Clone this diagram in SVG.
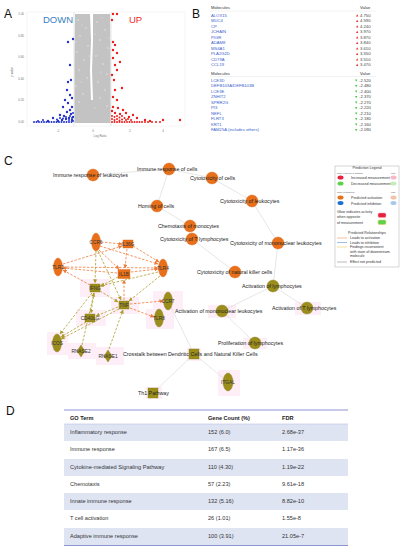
<svg xmlns="http://www.w3.org/2000/svg" width="403" height="550" viewBox="0 0 403 550">
<style>
.pl{font-family:"Liberation Sans",Arial,sans-serif;font-size:12px;fill:#111}
.tk{font-family:"Liberation Sans",Arial,sans-serif;font-size:3px;fill:#777}
.bt{font-family:"Liberation Sans",Arial,sans-serif;font-size:4.2px;fill:#3a5fcd}
.bh{font-family:"Liberation Sans",Arial,sans-serif;font-size:4.2px;fill:#333}
.bv{font-family:"Liberation Sans",Arial,sans-serif;font-size:4.2px;fill:#444}
.fl{font-family:"Liberation Sans",Arial,sans-serif;font-size:5.3px;fill:#222}
.gl{font-family:"Liberation Sans",Arial,sans-serif;font-size:4.8px;fill:#333;text-anchor:middle}
.lg{font-family:"Liberation Sans",Arial,sans-serif;font-size:3.6px;fill:#333}
.ls{font-family:"Liberation Sans",Arial,sans-serif;font-size:2.4px;fill:#555}
.dt{font-family:"Liberation Sans",Arial,sans-serif;font-size:5.6px;fill:#333}
.dh{font-family:"Liberation Sans",Arial,sans-serif;font-size:5.6px;fill:#222;font-weight:bold}
.fn{fill:#e8701a;stroke:#d9631a;stroke-width:0.4}
.on{fill:#e8701a;stroke:#d9631a;stroke-width:0.4}
.ol{fill:#9c8e1c;stroke:#8a7c15;stroke-width:0.4}
.fe{stroke:#dcdcdc;stroke-width:0.7;fill:none}
.eo{stroke:#f07a3a;stroke-width:0.8;stroke-dasharray:2.5 1.5;fill:none;marker-end:url(#ao)}
.ey{stroke:#ad9e2c;stroke-width:0.8;stroke-dasharray:2.5 1.5;fill:none;marker-end:url(#ay)}
.hl{fill:#fdeef7}
.gc{fill:#c3c3c3}
</style>
<defs>
<marker id="ao" viewBox="0 0 10 10" refX="9" refY="5" markerWidth="4" markerHeight="4" markerUnits="userSpaceOnUse" orient="auto"><path d="M0,0L10,5L0,10z" fill="#f07a3a"/></marker>
<marker id="ay" viewBox="0 0 10 10" refX="9" refY="5" markerWidth="4" markerHeight="4" markerUnits="userSpaceOnUse" orient="auto"><path d="M0,0L10,5L0,10z" fill="#ad9e2c"/></marker>
</defs>
<rect width="403" height="550" fill="#fff"/>

<!-- Panel A -->
<g id="panelA">
<text class="pl" x="4" y="18">A</text>
<rect x="27" y="12" width="158" height="114" fill="none" stroke="#ececec" stroke-width="0.5"/>
<line x1="74" y1="12" x2="74" y2="126" stroke="#cfcfcf" stroke-width="0.5"/>
<line x1="111" y1="12" x2="111" y2="126" stroke="#cfcfcf" stroke-width="0.5"/>
<path class="gc" d="M75,14L90,14L91,40L90,70L91,100L93,100L92,70L93,40L93,14L110,14L110.5,60L110.5,123L74.5,123L74.5,60z"/>
<g fill="#e4e4e4">
<circle cx="78" cy="20" r="0.8"/><circle cx="86" cy="28" r="0.8"/><circle cx="80" cy="36" r="0.8"/><circle cx="88" cy="46" r="0.8"/><circle cx="77" cy="52" r="0.8"/><circle cx="84" cy="60" r="0.8"/><circle cx="79" cy="70" r="0.8"/><circle cx="87" cy="78" r="0.8"/><circle cx="76" cy="86" r="0.8"/><circle cx="83" cy="94" r="0.8"/><circle cx="79" cy="102" r="0.8"/>
<circle cx="97" cy="22" r="0.8"/><circle cx="105" cy="30" r="0.8"/><circle cx="100" cy="40" r="0.8"/><circle cx="108" cy="48" r="0.8"/><circle cx="96" cy="56" r="0.8"/><circle cx="103" cy="64" r="0.8"/><circle cx="107" cy="74" r="0.8"/><circle cx="98" cy="82" r="0.8"/><circle cx="105" cy="90" r="0.8"/><circle cx="100" cy="98" r="0.8"/><circle cx="107" cy="106" r="0.8"/>
<circle cx="82" cy="25" r="0.6"/><circle cx="76" cy="42" r="0.6"/><circle cx="89" cy="56" r="0.6"/><circle cx="81" cy="82" r="0.6"/><circle cx="102" cy="18" r="0.6"/><circle cx="95" cy="34" r="0.6"/><circle cx="109" cy="38" r="0.6"/><circle cx="101" cy="72" r="0.6"/><circle cx="95" cy="108" r="0.6"/>
</g>
<text class="tk" x="24" y="15" text-anchor="end">1.00</text>
<text class="tk" x="24" y="37" text-anchor="end">0.80</text>
<text class="tk" x="24" y="58" text-anchor="end">0.60</text>
<text class="tk" x="24" y="80" text-anchor="end">0.40</text>
<text class="tk" x="24" y="101" text-anchor="end">0.20</text>
<text class="tk" x="24" y="123" text-anchor="end">0.00</text>
<text class="tk" x="58" y="132" text-anchor="middle">-2</text>
<text class="tk" x="93" y="132" text-anchor="middle">0</text>
<text class="tk" x="130" y="132" text-anchor="middle">2</text>
<text class="tk" x="163" y="132" text-anchor="middle">4</text>
<text class="tk" x="100" y="136.5" text-anchor="middle" font-size="3.4">Log Ratio</text>
<text class="tk" x="0" y="0" text-anchor="middle" font-size="3.4" transform="translate(13,72) rotate(-90)">p-value</text>
<text x="43" y="23" font-family="Liberation Sans,Arial,sans-serif" font-size="9.5" fill="#3a7fc1">DOWN</text>
<text x="129" y="23" font-family="Liberation Sans,Arial,sans-serif" font-size="9.5" fill="#ee2a2a">UP</text>
<g fill="#2233cc">
<circle cx="68" cy="42" r="1.2"/><circle cx="73" cy="39" r="1.2"/><circle cx="70" cy="65" r="1.2"/><circle cx="71" cy="80" r="1.2"/><circle cx="68" cy="82" r="1.2"/><circle cx="67" cy="90" r="1.2"/><circle cx="70" cy="95" r="1.2"/><circle cx="72" cy="98" r="1.2"/><circle cx="65" cy="100" r="1.2"/><circle cx="68" cy="103" r="1.2"/><circle cx="63" cy="107" r="1.2"/><circle cx="72" cy="107" r="1.2"/><circle cx="67" cy="112" r="1.2"/><circle cx="70" cy="110" r="1.2"/><circle cx="53" cy="118" r="1.2"/><circle cx="60" cy="115" r="1.2"/><circle cx="64" cy="116" r="1.2"/><circle cx="71" cy="114" r="1.2"/><circle cx="73" cy="117" r="1.2"/><circle cx="69" cy="118" r="1.2"/><circle cx="66" cy="119" r="1.2"/><circle cx="62" cy="120" r="1.2"/><circle cx="58" cy="121" r="1.2"/><circle cx="72" cy="120" r="1.2"/><circle cx="48" cy="121" r="1.2"/>
<circle cx="34" cy="122" r="1"/><circle cx="36.5" cy="122" r="1"/><circle cx="39" cy="122" r="1"/><circle cx="41.5" cy="122" r="1"/><circle cx="44" cy="122" r="1"/><circle cx="46.5" cy="122" r="1"/><circle cx="49" cy="122" r="1"/><circle cx="51.5" cy="122" r="1"/><circle cx="54" cy="122" r="1"/><circle cx="56.5" cy="122" r="1"/><circle cx="59" cy="122" r="1"/><circle cx="61.5" cy="122" r="1"/><circle cx="64" cy="122" r="1"/><circle cx="66.5" cy="122" r="1"/><circle cx="69" cy="122" r="1"/><circle cx="71.5" cy="122" r="1"/><circle cx="73" cy="121" r="1"/>
<circle cx="57" cy="119.5" r="1"/><circle cx="60" cy="118" r="1"/><circle cx="63" cy="118.5" r="1"/><circle cx="66" cy="117" r="1"/><circle cx="69" cy="120" r="1"/><circle cx="72" cy="118" r="1"/><circle cx="43" cy="120" r="1"/><circle cx="38" cy="121" r="1"/><circle cx="70" cy="116" r="1"/><circle cx="73" cy="113" r="1"/>
</g>
<g fill="#ee1c1c">
<circle cx="113" cy="14" r="1.2"/><circle cx="117" cy="14" r="1.2"/><circle cx="112" cy="20" r="1.2"/><circle cx="113" cy="42" r="1.2"/><circle cx="115" cy="45" r="1.2"/><circle cx="113" cy="50" r="1.2"/><circle cx="117" cy="53" r="1.2"/><circle cx="113" cy="58" r="1.2"/><circle cx="120" cy="62" r="1.2"/><circle cx="115" cy="65" r="1.2"/><circle cx="117" cy="70" r="1.2"/><circle cx="112" cy="75" r="1.2"/><circle cx="114" cy="80" r="1.2"/><circle cx="122" cy="88" r="1.2"/><circle cx="115" cy="90" r="1.2"/><circle cx="113" cy="97" r="1.2"/><circle cx="117" cy="100" r="1.2"/><circle cx="113" cy="107" r="1.2"/><circle cx="118" cy="108" r="1.2"/><circle cx="123" cy="110" r="1.2"/><circle cx="115" cy="113" r="1.2"/><circle cx="112" cy="111" r="1.2"/><circle cx="120" cy="114" r="1.2"/><circle cx="126" cy="113" r="1.2"/><circle cx="133" cy="115" r="1.2"/><circle cx="129" cy="117" r="1.2"/><circle cx="137" cy="118" r="1.2"/><circle cx="163" cy="120" r="1.2"/><circle cx="180" cy="120" r="1.2"/><circle cx="150" cy="121" r="1.2"/><circle cx="145" cy="120" r="1.2"/>
<circle cx="112" cy="116" r="1"/><circle cx="114.5" cy="117" r="1"/><circle cx="117" cy="116" r="1"/><circle cx="119.5" cy="117.5" r="1"/><circle cx="122" cy="116" r="1"/><circle cx="124.5" cy="118" r="1"/><circle cx="112" cy="119" r="1"/><circle cx="114.5" cy="120" r="1"/><circle cx="117" cy="119" r="1"/><circle cx="119.5" cy="120.5" r="1"/><circle cx="122" cy="119.5" r="1"/><circle cx="126" cy="120" r="1"/><circle cx="112" cy="122" r="1"/><circle cx="114.5" cy="122" r="1"/><circle cx="117" cy="122" r="1"/><circle cx="119.5" cy="122" r="1"/><circle cx="122" cy="122" r="1"/><circle cx="124.5" cy="122" r="1"/><circle cx="127" cy="122" r="1"/><circle cx="129.5" cy="122" r="1"/><circle cx="132" cy="122" r="1"/><circle cx="134.5" cy="122" r="1"/><circle cx="137" cy="122" r="1"/><circle cx="139.5" cy="122" r="1"/><circle cx="142" cy="122" r="1"/><circle cx="145" cy="122" r="1"/><circle cx="148" cy="122" r="1"/><circle cx="152" cy="122" r="1"/><circle cx="156" cy="122" r="1"/><circle cx="160" cy="122" r="1"/><circle cx="131" cy="120" r="1"/><circle cx="128" cy="119" r="1"/>
</g>
</g>

<!-- Panel B -->
<g id="panelB">
<text class="pl" x="192" y="18">B</text>
<text class="bh" x="211" y="9">Molecules</text>
<text class="bh" x="360" y="9">Value</text>
<line x1="210" y1="11" x2="376" y2="11" stroke="#ddd" stroke-width="0.4"/>
<text class="bt" x="211" y="16.5">ALOX15</text>
<text class="bt" x="211" y="22">MUC4</text>
<text class="bt" x="211" y="27.5">CP</text>
<text class="bt" x="211" y="33">JCHAIN</text>
<text class="bt" x="211" y="38.5">PIGR</text>
<text class="bt" x="211" y="44">ADAM8</text>
<text class="bt" x="211" y="49.5">MS4A1</text>
<text class="bt" x="211" y="55">PLA2G2D</text>
<text class="bt" x="211" y="60.5">CD79A</text>
<text class="bt" x="211" y="66">CCL19</text>
<g fill="#e33">
<path d="M356,16.5h2.4l-1.2,-2.2z"/><path d="M356,22h2.4l-1.2,-2.2z"/><path d="M356,27.5h2.4l-1.2,-2.2z"/><path d="M356,33h2.4l-1.2,-2.2z"/><path d="M356,38.5h2.4l-1.2,-2.2z"/><path d="M356,44h2.4l-1.2,-2.2z"/><path d="M356,49.5h2.4l-1.2,-2.2z"/><path d="M356,55h2.4l-1.2,-2.2z"/><path d="M356,60.5h2.4l-1.2,-2.2z"/><path d="M356,66h2.4l-1.2,-2.2z"/>
</g>
<text class="bv" x="360" y="16.5">4.750</text>
<text class="bv" x="360" y="22">4.590</text>
<text class="bv" x="360" y="27.5">4.240</text>
<text class="bv" x="360" y="33">3.970</text>
<text class="bv" x="360" y="38.5">3.870</text>
<text class="bv" x="360" y="44">3.840</text>
<text class="bv" x="360" y="49.5">3.610</text>
<text class="bv" x="360" y="55">3.550</text>
<text class="bv" x="360" y="60.5">3.510</text>
<text class="bv" x="360" y="66">3.470</text>

<text class="bh" x="211" y="74.5">Molecules</text>
<text class="bh" x="360" y="74.5">Value</text>
<line x1="210" y1="76.5" x2="376" y2="76.5" stroke="#ddd" stroke-width="0.4"/>
<text class="bt" x="211" y="81.5">LCE3D</text>
<text class="bt" x="211" y="87">DEFB103A/DEFB103B</text>
<text class="bt" x="211" y="92.5">LCE3E</text>
<text class="bt" x="211" y="98">ZNHIT2</text>
<text class="bt" x="211" y="103.5">SPRR2G</text>
<text class="bt" x="211" y="109">PI3</text>
<text class="bt" x="211" y="114.5">NEFL</text>
<text class="bt" x="211" y="120">FLRT3</text>
<text class="bt" x="211" y="125.5">KRT1</text>
<text class="bt" x="211" y="131">FAM25A (includes others)</text>
<g fill="#4c4">
<path d="M355,79.5h2.4l-1.2,2.2z"/><path d="M355,85h2.4l-1.2,2.2z"/><path d="M355,90.5h2.4l-1.2,2.2z"/><path d="M355,96h2.4l-1.2,2.2z"/><path d="M355,101.5h2.4l-1.2,2.2z"/><path d="M355,107h2.4l-1.2,2.2z"/><path d="M355,112.5h2.4l-1.2,2.2z"/><path d="M355,118h2.4l-1.2,2.2z"/><path d="M355,123.5h2.4l-1.2,2.2z"/><path d="M355,129h2.4l-1.2,2.2z"/>
</g>
<text class="bv" x="359" y="81.5">-2.520</text>
<text class="bv" x="359" y="87">-2.480</text>
<text class="bv" x="359" y="92.5">-2.400</text>
<text class="bv" x="359" y="98">-2.370</text>
<text class="bv" x="359" y="103.5">-2.270</text>
<text class="bv" x="359" y="109">-2.220</text>
<text class="bv" x="359" y="114.5">-2.210</text>
<text class="bv" x="359" y="120">-2.180</text>
<text class="bv" x="359" y="125.5">-2.160</text>
<text class="bv" x="359" y="131">-2.090</text>
</g>

<!-- Panel C label -->
<text class="pl" x="4" y="165">C</text>

<!-- highlights -->
<g id="highlights">
<rect class="hl" x="80" y="279" width="30" height="18"/>
<rect class="hl" x="111" y="297" width="28" height="17"/>
<rect class="hl" x="153" y="291" width="30" height="20"/>
<rect class="hl" x="146" y="309" width="28" height="20"/>
<rect class="hl" x="76" y="310" width="30" height="16"/>
<rect class="hl" x="47" y="332" width="21" height="23"/>
<rect class="hl" x="68" y="343" width="28" height="16"/>
<rect class="hl" x="96" y="347" width="28" height="18"/>
<rect class="hl" x="218" y="370" width="22" height="26"/>
<rect class="hl" x="295" y="302" width="26" height="13"/>
<rect class="hl" x="208" y="305" width="28" height="13"/>
<rect class="hl" x="243" y="338" width="24" height="11"/>
<rect class="hl" x="187" y="348" width="14" height="13"/>
<rect class="hl" x="146" y="387" width="16" height="12"/>
</g>

<!-- connectors -->
<g id="connectors">
<line class="fe" x1="93" y1="175" x2="169" y2="169"/>
<line class="fe" x1="169" y1="169" x2="157" y2="206"/>
<line class="fe" x1="169" y1="169" x2="212" y2="178"/>
<line class="fe" x1="212" y1="178" x2="252" y2="201"/>
<line class="fe" x1="157" y1="206" x2="190" y2="226"/>
<line class="fe" x1="252" y1="201" x2="278" y2="243"/>
<line class="fe" x1="192" y1="239" x2="235" y2="272"/>
<line class="fe" x1="278" y1="243" x2="273" y2="286"/>
<line class="fe" x1="273" y1="286" x2="307" y2="308"/>
<line class="fe" x1="273" y1="286" x2="222" y2="311"/>
<line class="fe" x1="222" y1="311" x2="255" y2="343"/>
<line class="fe" x1="168" y1="301" x2="194" y2="354"/>
<line class="fe" x1="194" y1="354" x2="153" y2="393"/>
<line class="fe" x1="194" y1="354" x2="228" y2="382"/>

<line class="eo" x1="101" y1="242" x2="122" y2="244"/>
<line class="eo" x1="63" y1="264" x2="122" y2="246"/>
<line class="eo" x1="63" y1="267" x2="158" y2="268"/>
<line class="eo" x1="100" y1="246" x2="158" y2="264"/>
<line class="eo" x1="99" y1="250" x2="119" y2="269"/>
<line class="eo" x1="127" y1="249" x2="125" y2="268"/>
<line class="eo" x1="133" y1="246" x2="159" y2="262"/>
<line class="eo" x1="131" y1="272" x2="158" y2="269"/>
<line class="eo" x1="117" y1="273" x2="63" y2="268"/>
<line class="eo" x1="90" y1="285" x2="63" y2="270"/>
<line class="eo" x1="124" y1="300" x2="124" y2="280"/>
<line class="eo" x1="130" y1="304" x2="163" y2="301"/>
<line class="eo" x1="130" y1="308" x2="154" y2="317"/>

<line class="ey" x1="118" y1="277" x2="101" y2="286"/>
<line class="ey" x1="96" y1="251" x2="95" y2="283"/>
<line class="ey" x1="100" y1="291" x2="118" y2="302"/>
<line class="ey" x1="94" y1="293" x2="91" y2="313"/>
<line class="ey" x1="118" y1="307" x2="96" y2="316"/>
<line class="ey" x1="98" y1="251" x2="121" y2="300"/>
<line class="ey" x1="160" y1="276" x2="129" y2="301"/>
<line class="ey" x1="158" y1="272" x2="100" y2="286"/>
<line class="ey" x1="86" y1="322" x2="61" y2="337"/>
<line class="ey" x1="92" y1="293" x2="60" y2="334"/>
<line class="ey" x1="119" y1="309" x2="61" y2="339"/>
<line class="ey" x1="82" y1="345" x2="94" y2="293"/>
<line class="ey" x1="109" y1="349" x2="123" y2="310"/>
</g>

<!-- function nodes -->
<g id="n-immune-leuk"><circle class="fn" cx="93" cy="175" r="6"/><text class="fl" x="53" y="177">Immune response of leukocytes</text></g>
<g id="n-immune-cells"><circle class="fn" cx="169" cy="169" r="6"/><text class="fl" x="137" y="171">Immune response of cells</text></g>
<g id="n-cyto-cells"><circle class="fn" cx="212" cy="178" r="6"/><text class="fl" x="190" y="180">Cytotoxicity of cells</text></g>
<g id="n-cyto-leuk"><circle class="fn" cx="252" cy="201" r="6"/><text class="fl" x="220" y="203">Cytotoxicity of leukocytes</text></g>
<g id="n-homing"><circle class="fn" cx="157" cy="206" r="6"/><text class="fl" x="138" y="208">Homing of cells</text></g>
<g id="n-chemo"><circle class="fn" cx="190" cy="226" r="6"/><text class="fl" x="158" y="228">Chemotaxis of monocytes</text></g>
<g id="n-cyto-t"><circle class="fn" cx="192" cy="239" r="6"/><text class="fl" x="160" y="241">Cytotoxicity of T lymphocytes</text></g>
<g id="n-cyto-mono"><circle class="fn" cx="278" cy="243" r="6"/><text class="fl" x="230" y="245">Cytotoxicity of mononuclear leukocytes</text></g>
<g id="n-cyto-nk"><circle class="fn" cx="235" cy="272" r="6"/><text class="fl" x="197" y="274">Cytotoxicity of natural killer cells</text></g>
<g id="n-act-lym"><circle class="ol" cx="273" cy="286" r="6"/><text class="fl" x="242" y="288">Activation of lymphocytes</text></g>
<g id="n-act-t"><circle class="ol" cx="307" cy="308" r="6"/><text class="fl" x="272" y="310">Activation of T lymphocytes</text></g>
<g id="n-act-mono"><circle class="ol" cx="222" cy="311" r="6"/><text class="fl" x="175" y="313">Activation of mononuclear leukocytes</text></g>
<g id="n-prolif"><circle class="ol" cx="255" cy="343" r="6"/><text class="fl" x="218" y="345">Proliferation of lymphocytes</text></g>
<g id="n-crosstalk"><rect class="ol" x="189" y="349" width="10" height="10"/><text class="fl" x="123" y="356">Crosstalk between Dendritic Cells and Natural Killer Cells</text></g>
<g id="n-th1"><rect class="ol" x="148" y="388" width="10" height="10"/><text class="fl" x="138" y="395">Th1 Pathway</text></g>
<g id="n-itgal"><ellipse class="ol" cx="228" cy="382" rx="5" ry="9"/><text class="gl" x="228" y="384">ITGAL</text></g>

<!-- gene nodes -->
<g id="g-ccr6"><ellipse class="on" cx="96" cy="242" rx="4.5" ry="9"/><text class="gl" x="96" y="244">CCR6</text></g>
<g id="g-il36g"><rect class="on" x="123" y="240" width="10" height="8"/><text class="gl" x="128" y="246">IL36G</text></g>
<g id="g-tlr2"><ellipse class="on" cx="58" cy="267" rx="4.5" ry="9"/><text class="gl" x="58" y="269">TLR2</text></g>
<g id="g-tlr4"><ellipse class="on" cx="163" cy="268" rx="4.5" ry="9"/><text class="gl" x="163" y="270">TLR4</text></g>
<g id="g-il1b"><rect class="on" x="118" y="269.5" width="12" height="9"/><text class="gl" x="124" y="276">IL1B</text></g>
<g id="g-ifng"><rect class="ol" x="90" y="284" width="10" height="8"/><text class="gl" x="95" y="290">IFNG</text></g>
<g id="g-tnf"><rect class="ol" x="119" y="301" width="10" height="8"/><text class="gl" x="124" y="307">TNF</text></g>
<g id="g-ccr7"><ellipse class="ol" cx="168" cy="301" rx="4.5" ry="9"/><text class="gl" x="168" y="303" fill="#a0307a">CCR7</text></g>
<g id="g-tlr8"><ellipse class="ol" cx="159" cy="318" rx="4.5" ry="9"/><text class="gl" x="159" y="320">TLR8</text></g>
<g id="g-cd40lg"><rect class="ol" x="85" y="314" width="10" height="8"/><text class="gl" x="90" y="320">CD40LG</text></g>
<g id="g-icos"><ellipse class="ol" cx="57" cy="343" rx="4.5" ry="9"/><text class="gl" x="57" y="345">ICOS</text></g>
<g id="g-rnase2"><path class="ol" d="M81,345L85,351L81,357L77,351z"/><text class="gl" x="81" y="353">RNASE2</text></g>
<g id="g-rnase1"><path class="ol" d="M108,350L112,356L108,362L104,356z"/><text class="gl" x="108" y="358">RNASE1</text></g>

<!-- legend -->
<g id="legend">
<rect x="335" y="166" width="64" height="101" fill="#fff" stroke="#999" stroke-width="0.4"/>
<text class="lg" x="367" y="169" text-anchor="middle">Prediction Legend</text>
<text class="ls" x="337" y="174">more extreme in dataset</text><text class="ls" x="391" y="174">less</text>
<ellipse cx="340.5" cy="177.5" rx="3" ry="2" fill="#e8213c"/><text class="lg" x="351" y="179">Increased measurement</text><ellipse cx="393.5" cy="177.5" rx="3" ry="2" fill="#f5b8c4"/>
<ellipse cx="340.5" cy="183.5" rx="3" ry="2" fill="#5fd14a"/><text class="lg" x="351" y="185">Decreased measurement</text><ellipse cx="393.5" cy="183.5" rx="3" ry="2" fill="#c4edb8"/>
<text class="ls" x="337" y="193">more confidence</text><text class="ls" x="391" y="193">less</text>
<ellipse cx="340.5" cy="197.5" rx="3" ry="2" fill="#e8701a"/><text class="lg" x="351" y="199">Predicted activation</text><ellipse cx="393.5" cy="197.5" rx="3" ry="2" fill="#f2c3a6"/>
<ellipse cx="340.5" cy="203" rx="3" ry="2" fill="#1e6fd0"/><text class="lg" x="351" y="204.5">Predicted inhibition</text><ellipse cx="393.5" cy="203" rx="3" ry="2" fill="#a9c8ec"/>
<text class="lg" x="337" y="213">Glow indicates activity</text>
<text class="lg" x="337" y="218">when opposite</text>
<text class="lg" x="337" y="223.5">of measurement</text>
<rect x="378" y="213" width="8" height="4.5" rx="1.5" fill="#e8213c" stroke="#f5a0b0" stroke-width="0.5"/>
<rect x="378" y="220" width="8" height="4.5" rx="1.5" fill="#5fd14a" stroke="#e0d060" stroke-width="0.5"/>
<text class="lg" x="367" y="234" text-anchor="middle">Predicted Relationships</text>
<line x1="337" y1="238" x2="347" y2="238" stroke="#f07a3a" stroke-width="0.5"/><text class="lg" x="350" y="239">Leads to activation</text>
<line x1="337" y1="242.5" x2="347" y2="242.5" stroke="#3a7fd0" stroke-width="0.5"/><text class="lg" x="350" y="243.5">Leads to inhibition</text>
<line x1="337" y1="247" x2="347" y2="247" stroke="#e8c040" stroke-width="0.5"/><text class="lg" x="350" y="248">Findings inconsistent</text>
<text class="lg" x="350" y="252.5">with state of downstream</text>
<text class="lg" x="350" y="257">molecule</text>
<line x1="337" y1="262" x2="347" y2="262" stroke="#777" stroke-width="0.5"/><text class="lg" x="350" y="263">Effect not predicted</text>
</g>

<!-- Panel D -->
<g id="panelD">
<text class="pl" x="6" y="415">D</text>
<rect x="64" y="424" width="284" height="17" fill="#dfe4f3"/>
<rect x="64" y="459" width="284" height="17" fill="#dfe4f3"/>
<rect x="64" y="493" width="284" height="17" fill="#dfe4f3"/>
<rect x="64" y="528" width="284" height="17" fill="#dfe4f3"/>
<line x1="64" y1="410" x2="348" y2="410" stroke="#8d94d4" stroke-width="1"/>
<line x1="64" y1="424" x2="348" y2="424" stroke="#b8bfe6" stroke-width="0.6"/>
<line x1="64" y1="545.5" x2="348" y2="545.5" stroke="#8d94d4" stroke-width="1"/>
<text class="dh" x="70" y="420">GO Term</text>
<text class="dh" x="208" y="420">Gene Count (%)</text>
<text class="dh" x="282" y="420">FDR</text>
<text class="dt" x="70" y="434">Inflammatory response</text><text class="dt" x="208" y="434">152 (6.0)</text><text class="dt" x="282" y="434">2.68e-37</text>
<text class="dt" x="70" y="451">Immune response</text><text class="dt" x="208" y="451">167 (6.5)</text><text class="dt" x="282" y="451">1.17e-36</text>
<text class="dt" x="70" y="469">Cytokine-mediated Signaling Pathway</text><text class="dt" x="208" y="469">110 (4.30)</text><text class="dt" x="282" y="469">1.19e-22</text>
<text class="dt" x="70" y="486">Chemotaxis</text><text class="dt" x="208" y="486">57 (2.23)</text><text class="dt" x="282" y="486">9.61e-18</text>
<text class="dt" x="70" y="503">Innate immune response</text><text class="dt" x="208" y="503">132 (5.16)</text><text class="dt" x="282" y="503">8.82e-10</text>
<text class="dt" x="70" y="520">T cell activation</text><text class="dt" x="208" y="520">26 (1.01)</text><text class="dt" x="282" y="520">1.55e-8</text>
<text class="dt" x="70" y="538">Adaptive immune response</text><text class="dt" x="208" y="538">100 (3.91)</text><text class="dt" x="282" y="538">21.05e-7</text>
</g>
</svg>
